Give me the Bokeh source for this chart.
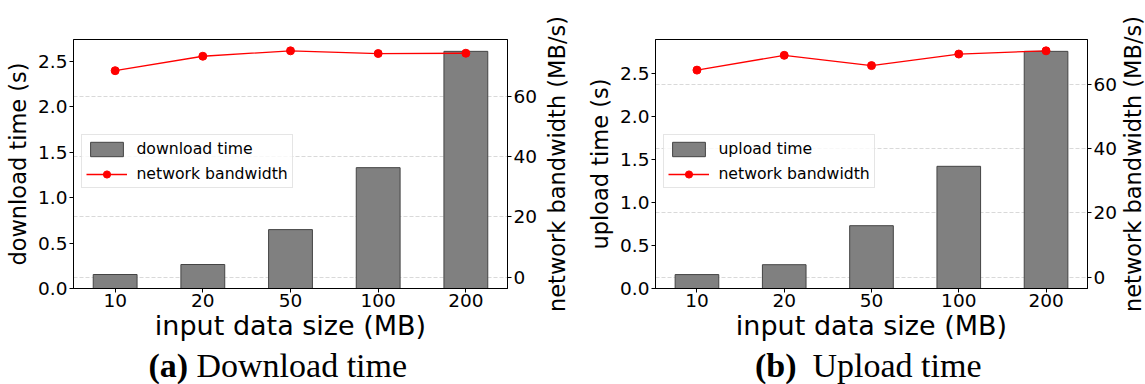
import math
from bokeh.plotting import figure
from bokeh.layouts import row, column
from bokeh.models import (Range1d, LinearAxis, FixedTicker, PrintfTickFormatter,
                          Grid, Legend, LegendItem)
from bokeh.core.properties import value
from bokeh.embed import file_html
from bokeh.resources import INLINE

# ---- data ----
sizes = ["10", "20", "50", "100", "200"]
download_time = [0.154, 0.264, 0.648, 1.33, 2.61]
download_bw = [68.6, 73.4, 75.2, 74.3, 74.4]
upload_time = [0.162, 0.277, 0.731, 1.422, 2.76]
upload_bw = [64.4, 69.0, 65.8, 69.4, 70.4]
time_ticks = [0.0, 0.5, 1.0, 1.5, 2.0, 2.5]
bw_ticks = [0, 20, 40, 60]
captions_tag = ["(a)", "(b)"]
captions_text = ["Download time", "Upload time"]
bw_label = "network bandwidth (MB/s)"

SANS = "DejaVu Sans"
SERIF = "Liberation Serif"
MAIN_H = 346
BT, BB = 39, 58


def style_axis(ax):
    ax.axis_line_color = "black"
    ax.axis_line_width = 1
    ax.major_tick_line_color = "black"
    ax.major_tick_in = 0
    ax.major_tick_out = 4
    ax.minor_tick_line_color = None
    ax.major_label_text_font = SANS
    ax.major_label_text_font_size = "18.5px"
    ax.major_label_text_color = "black"
    ax.major_label_standoff = 2
    ax.axis_label_text_font = SANS
    ax.axis_label_text_font_style = "normal"
    ax.axis_label_text_color = "black"


def blank(width, height):
    f = figure(width=width, height=height, output_backend="svg", toolbar_location=None,
               x_range=Range1d(0, width), y_range=Range1d(0, height),
               x_axis_type=None, y_axis_type=None, title_location=None,
               min_border=0, min_border_left=0, min_border_right=0,
               min_border_top=0, min_border_bottom=0)
    f.grid.visible = False
    f.outline_line_color = None
    f.background_fill_color = "white"
    f.border_fill_color = "white"
    return f


def make_panel(times, bws, time_label, width, bl, br):
    xs = list(range(len(sizes)))
    bar_w = 0.5
    span = (len(sizes) - 1) + bar_w
    x0 = -bar_w / 2 - 0.05 * span
    x1 = (len(sizes) - 1) + bar_w / 2 + 0.05 * span
    p = figure(width=width, height=MAIN_H, output_backend="svg", toolbar_location=None,
               x_range=Range1d(x0, x1), y_range=Range1d(0, 1.05 * max(times)),
               min_border_left=bl, min_border_right=br, min_border_top=BT,
               min_border_bottom=BB)
    p.extra_y_ranges = {"bw": Range1d(-0.05 * max(bws), 1.05 * max(bws))}
    p.xgrid.visible = False
    p.ygrid.visible = False
    p.outline_line_color = "black"
    p.outline_line_width = 1
    p.background_fill_color = "white"
    p.border_fill_color = "white"

    grid = Grid(dimension=1, ticker=FixedTicker(ticks=bw_ticks), y_range_name="bw",
                grid_line_color="#d9d9d9", grid_line_dash="4 2", grid_line_width=1)
    p.add_layout(grid)

    bars = p.vbar(x=xs, top=times, bottom=0, width=bar_w, fill_color="#808080",
                  line_color="#444444", line_width=1)
    ln = p.line(xs, bws, y_range_name="bw", line_color="#ff0000", line_width=1.3)
    pts = p.scatter(xs, bws, y_range_name="bw", size=8, fill_color="#ff0000",
                    line_color="#ff0000")

    xa = p.xaxis[0]
    style_axis(xa)
    xa.ticker = FixedTicker(ticks=xs)
    xa.major_label_overrides = {i: s for i, s in enumerate(sizes)}
    xa.major_label_standoff = 1
    xa.axis_label = "input data size (MB)"
    xa.axis_label_text_font_size = "27px"
    xa.axis_label_standoff = 0

    ya = p.yaxis[0]
    style_axis(ya)
    ya.ticker = FixedTicker(ticks=time_ticks)
    ya.formatter = PrintfTickFormatter(format="%.1f")
    ya.axis_label = time_label
    ya.axis_label_text_font_size = "22.5px"
    ya.axis_label_standoff = 4

    ra = LinearAxis(y_range_name="bw", ticker=FixedTicker(ticks=bw_ticks))
    style_axis(ra)
    ra.major_label_standoff = 2
    p.add_layout(ra, "right")

    legend = Legend(items=[LegendItem(label=time_label.replace(" (s)", ""), renderers=[bars]),
                           LegendItem(label="network bandwidth", renderers=[ln, pts])],
                    location=(8.4, 99.7), margin=0, padding=4, spacing=6,
                    glyph_width=41, glyph_height=18, label_height=18, label_standoff=9,
                    label_text_font=SANS, label_text_font_size="15.7px",
                    label_text_color="black",
                    border_line_color="#cccccc", border_line_width=1,
                    background_fill_color="white", background_fill_alpha=0.8)
    p.add_layout(legend)
    return p


def side_label(width, bl):
    # thin plot whose left-axis label carries the right-hand axis title
    s = figure(width=width, height=MAIN_H, output_backend="svg", toolbar_location=None,
               x_range=Range1d(0, 1), y_range=Range1d(0, 1), x_axis_type=None,
               title_location=None, min_border_left=bl, min_border_right=0,
               min_border_top=BT, min_border_bottom=BB)
    s.grid.visible = False
    s.outline_line_color = None
    s.background_fill_color = "white"
    s.border_fill_color = "white"
    ax = s.yaxis[0]
    ax.ticker = FixedTicker(ticks=[])
    ax.axis_line_color = None
    ax.major_tick_in = 0
    ax.major_tick_out = 0
    ax.minor_tick_in = 0
    ax.minor_tick_out = 0
    ax.major_tick_line_color = None
    ax.minor_tick_line_color = None
    ax.major_label_standoff = 0
    ax.axis_label = bw_label
    ax.axis_label_standoff = 0
    ax.axis_label_text_font = SANS
    ax.axis_label_text_font_style = "normal"
    ax.axis_label_text_font_size = "22.5px"
    ax.axis_label_text_color = "black"
    return s


p1 = make_panel(download_time, download_bw, "download time (s)", 540, 73, 31)
s1 = side_label(40, 26)
p2 = make_panel(upload_time, upload_bw, "upload time (s)", 540, 75, 30)
s2 = side_label(25, 24)

# caption strip below both panels (pixel coordinate space)
cap = blank(1145, 384 - MAIN_H)
tag_x = [148, 754.5]
text_x = [196, 812]
mid_y = [18.8, 18.8]
cap.text(x=tag_x, y=mid_y, text=captions_tag, text_font=value(SERIF),
         text_font_style="bold", text_font_size="34px", text_align="left",
         text_baseline="middle", text_color="black")
cap.text(x=text_x, y=mid_y, text=captions_text, text_font=value(SERIF),
         text_font_size="34px", text_align="left", text_baseline="middle",
         text_color="black")

layout = column(row(p1, s1, p2, s2), cap)
open("out.html", "w").write(file_html(layout, INLINE))
